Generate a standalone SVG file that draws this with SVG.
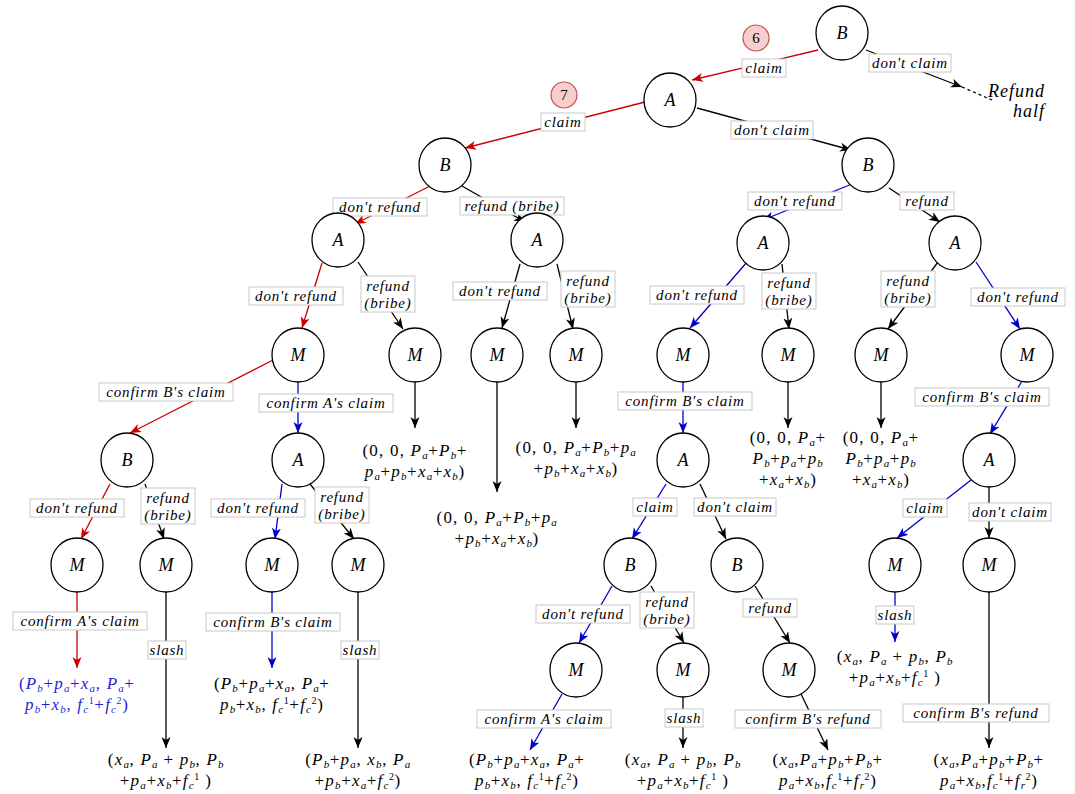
<svg xmlns="http://www.w3.org/2000/svg" width="1075" height="794" viewBox="0 0 1075 794">
<style>
.nd{fill:#fff;stroke:#000;stroke-width:1.3}
.nl{font-family:"Liberation Serif","Times New Roman",serif;font-style:italic;font-size:18px;text-anchor:middle}
.e{fill:none;stroke:#000;stroke-width:1.3}
.er{fill:none;stroke:#cc0000;stroke-width:1.3}
.eb{fill:none;stroke:#0000cc;stroke-width:1.3}
.lb{fill:#fff;stroke:#c8c8c8;stroke-width:1}
.lt{font-family:"Liberation Serif","Times New Roman",serif;font-style:italic;font-size:15px;text-anchor:middle;letter-spacing:0.8px}
.lf{font-family:"Liberation Serif","Times New Roman",serif;font-size:17px;text-anchor:middle;letter-spacing:1.2px}
.bl{fill:#1f1fd6}
.i{font-style:italic}
.s{font-style:italic;font-size:11px;baseline-shift:-3px;letter-spacing:0.6px}
.u{font-size:10px;baseline-shift:6px;letter-spacing:0.6px}
.bd{fill:#f8cecc;stroke:#b85450;stroke-width:1.2}
.bt{font-family:"Liberation Serif","Times New Roman",serif;font-size:15px;text-anchor:middle}
</style>
<defs>
<marker id="ak" markerUnits="userSpaceOnUse" markerWidth="12" markerHeight="10" refX="11" refY="4.5" orient="auto"><path d="M0,0 L11,4.5 L0,9 L3,4.5 z" fill="#000"/></marker>
<marker id="ar" markerUnits="userSpaceOnUse" markerWidth="12" markerHeight="10" refX="11" refY="4.5" orient="auto"><path d="M0,0 L11,4.5 L0,9 L3,4.5 z" fill="#cc0000"/></marker>
<marker id="ab" markerUnits="userSpaceOnUse" markerWidth="12" markerHeight="10" refX="11" refY="4.5" orient="auto"><path d="M0,0 L11,4.5 L0,9 L3,4.5 z" fill="#0000cc"/></marker>
</defs>
<rect width="1075" height="794" fill="#fff"/>
<g id="connectors">
<line class="er" x1="818" y1="50" x2="692" y2="80" marker-end="url(#ar)"/>
<line class="e" x1="866" y1="50" x2="962" y2="87" marker-end="url(#ak)"/>
<line class="e" x1="962" y1="87" x2="992" y2="100" stroke-dasharray="3,3"/>
<line class="er" x1="645" y1="102" x2="465" y2="148" marker-end="url(#ar)"/>
<line class="e" x1="697" y1="108" x2="851" y2="150" marker-end="url(#ak)"/>
<line class="er" x1="432" y1="185" x2="355" y2="224" marker-end="url(#ar)"/>
<line class="e" x1="462" y1="186" x2="525" y2="222" marker-end="url(#ak)"/>
<line class="eb" x1="852" y1="184" x2="763" y2="220" marker-end="url(#ab)"/>
<line class="e" x1="889" y1="188" x2="940" y2="222" marker-end="url(#ak)"/>
<line class="er" x1="322" y1="263" x2="302" y2="328" marker-end="url(#ar)"/>
<line class="e" x1="358" y1="262" x2="403" y2="329" marker-end="url(#ak)"/>
<line class="e" x1="520" y1="264" x2="502" y2="328" marker-end="url(#ak)"/>
<line class="e" x1="557" y1="264" x2="573" y2="329" marker-end="url(#ak)"/>
<line class="eb" x1="747" y1="262" x2="690" y2="328" marker-end="url(#ab)"/>
<line class="e" x1="782" y1="264" x2="789" y2="329" marker-end="url(#ak)"/>
<line class="e" x1="938" y1="262" x2="888" y2="329" marker-end="url(#ak)"/>
<line class="eb" x1="976" y1="262" x2="1020" y2="329" marker-end="url(#ab)"/>
<line class="er" x1="273" y1="360" x2="130" y2="433" marker-end="url(#ar)"/>
<line class="eb" x1="298" y1="381" x2="298" y2="433" marker-end="url(#ab)"/>
<line class="eb" x1="683" y1="381" x2="683" y2="433" marker-end="url(#ab)"/>
<line class="eb" x1="1022" y1="381" x2="990" y2="434" marker-end="url(#ab)"/>
<line class="er" x1="110" y1="484" x2="81" y2="539" marker-end="url(#ar)"/>
<line class="e" x1="145" y1="484" x2="164" y2="539" marker-end="url(#ak)"/>
<line class="eb" x1="282" y1="484" x2="275" y2="539" marker-end="url(#ab)"/>
<line class="e" x1="310" y1="484" x2="354" y2="539" marker-end="url(#ak)"/>
<line class="eb" x1="666" y1="484" x2="632" y2="539" marker-end="url(#ab)"/>
<line class="e" x1="700" y1="484" x2="726" y2="539" marker-end="url(#ak)"/>
<line class="eb" x1="971" y1="480" x2="897" y2="538" marker-end="url(#ab)"/>
<line class="e" x1="989" y1="487" x2="989" y2="538" marker-end="url(#ak)"/>
<line class="eb" x1="612" y1="586" x2="579" y2="643" marker-end="url(#ab)"/>
<line class="e" x1="651" y1="586" x2="684" y2="643" marker-end="url(#ak)"/>
<line class="e" x1="755" y1="586" x2="790" y2="643" marker-end="url(#ak)"/>
<line class="er" x1="77" y1="591" x2="77" y2="668" marker-end="url(#ar)"/>
<line class="e" x1="166" y1="591" x2="166" y2="748" marker-end="url(#ak)"/>
<line class="eb" x1="272" y1="591" x2="272" y2="668" marker-end="url(#ab)"/>
<line class="e" x1="358" y1="591" x2="358" y2="748" marker-end="url(#ak)"/>
<line class="eb" x1="562" y1="694" x2="530" y2="750" marker-end="url(#ab)"/>
<line class="e" x1="683" y1="696" x2="683" y2="748" marker-end="url(#ak)"/>
<line class="e" x1="801" y1="694" x2="828" y2="750" marker-end="url(#ak)"/>
<line class="eb" x1="895" y1="591" x2="895" y2="642" marker-end="url(#ab)"/>
<line class="e" x1="989" y1="591" x2="989" y2="748" marker-end="url(#ak)"/>
<line class="e" x1="415" y1="381" x2="415" y2="428" marker-end="url(#ak)"/>
<line class="e" x1="497" y1="381" x2="497" y2="492" marker-end="url(#ak)"/>
<line class="e" x1="576" y1="381" x2="576" y2="428" marker-end="url(#ak)"/>
<line class="e" x1="788" y1="381" x2="788" y2="428" marker-end="url(#ak)"/>
<line class="e" x1="881" y1="381" x2="881" y2="428" marker-end="url(#ak)"/>
<g id="edge-labels">
<rect class="lb" x="742" y="59" width="44" height="18"/><text class="lt" x="764" y="73">claim</text>
<rect class="lb" x="869" y="54" width="82" height="18"/><text class="lt" x="910" y="68">don't claim</text>
<rect class="lb" x="541" y="113" width="44" height="18"/><text class="lt" x="563" y="127">claim</text>
<rect class="lb" x="731" y="121" width="82" height="18"/><text class="lt" x="772" y="135">don't claim</text>
<rect class="lb" x="333" y="198" width="94" height="18"/><text class="lt" x="380" y="212">don't refund</text>
<rect class="lb" x="460" y="197" width="104" height="18"/><text class="lt" x="512" y="211">refund (bribe)</text>
<rect class="lb" x="748" y="192" width="94" height="18"/><text class="lt" x="795" y="206">don't refund</text>
<rect class="lb" x="900" y="192" width="54" height="18"/><text class="lt" x="927" y="206">refund</text>
<rect class="lb" x="249" y="287" width="94" height="18"/><text class="lt" x="296" y="301">don't refund</text>
<rect class="lb" x="361" y="276" width="54" height="36"/><text class="lt" x="388" y="291">refund<tspan x="388" y="308">(bribe)</tspan></text>
<rect class="lb" x="453" y="282" width="94" height="18"/><text class="lt" x="500" y="296">don't refund</text>
<rect class="lb" x="561" y="271" width="54" height="36"/><text class="lt" x="588" y="286">refund<tspan x="588" y="303">(bribe)</tspan></text>
<rect class="lb" x="650" y="286" width="94" height="18"/><text class="lt" x="697" y="300">don't refund</text>
<rect class="lb" x="762" y="273" width="54" height="36"/><text class="lt" x="789" y="288">refund<tspan x="789" y="305">(bribe)</tspan></text>
<rect class="lb" x="881" y="271" width="54" height="36"/><text class="lt" x="908" y="286">refund<tspan x="908" y="303">(bribe)</tspan></text>
<rect class="lb" x="971" y="288" width="94" height="18"/><text class="lt" x="1018" y="302">don't refund</text>
<rect class="lb" x="99" y="383" width="134" height="18"/><text class="lt" x="166" y="397">confirm B's claim</text>
<rect class="lb" x="259" y="394" width="134" height="18"/><text class="lt" x="326" y="408">confirm A's claim</text>
<rect class="lb" x="618" y="392" width="134" height="18"/><text class="lt" x="685" y="406">confirm B's claim</text>
<rect class="lb" x="915" y="388" width="134" height="18"/><text class="lt" x="982" y="402">confirm B's claim</text>
<rect class="lb" x="30" y="499" width="94" height="18"/><text class="lt" x="77" y="513">don't refund</text>
<rect class="lb" x="141" y="488" width="54" height="36"/><text class="lt" x="168" y="503">refund<tspan x="168" y="520">(bribe)</tspan></text>
<rect class="lb" x="211" y="499" width="94" height="18"/><text class="lt" x="258" y="513">don't refund</text>
<rect class="lb" x="315" y="487" width="54" height="36"/><text class="lt" x="342" y="502">refund<tspan x="342" y="519">(bribe)</tspan></text>
<rect class="lb" x="633" y="498" width="44" height="18"/><text class="lt" x="655" y="512">claim</text>
<rect class="lb" x="694" y="498" width="82" height="18"/><text class="lt" x="735" y="512">don't claim</text>
<rect class="lb" x="903" y="499" width="44" height="18"/><text class="lt" x="925" y="513">claim</text>
<rect class="lb" x="969" y="503" width="82" height="18"/><text class="lt" x="1010" y="517">don't claim</text>
<rect class="lb" x="536" y="605" width="94" height="18"/><text class="lt" x="583" y="619">don't refund</text>
<rect class="lb" x="640" y="592" width="54" height="36"/><text class="lt" x="667" y="607">refund<tspan x="667" y="624">(bribe)</tspan></text>
<rect class="lb" x="743" y="599" width="54" height="18"/><text class="lt" x="770" y="613">refund</text>
<rect class="lb" x="13" y="612" width="134" height="18"/><text class="lt" x="80" y="626">confirm A's claim</text>
<rect class="lb" x="148" y="641" width="38" height="18"/><text class="lt" x="167" y="655">slash</text>
<rect class="lb" x="206" y="613" width="134" height="18"/><text class="lt" x="273" y="627">confirm B's claim</text>
<rect class="lb" x="341" y="641" width="38" height="18"/><text class="lt" x="360" y="655">slash</text>
<rect class="lb" x="477" y="710" width="134" height="18"/><text class="lt" x="544" y="724">confirm A's claim</text>
<rect class="lb" x="665" y="709" width="38" height="18"/><text class="lt" x="684" y="723">slash</text>
<rect class="lb" x="735" y="710" width="146" height="18"/><text class="lt" x="808" y="724">confirm B's refund</text>
<rect class="lb" x="876" y="606" width="38" height="18"/><text class="lt" x="895" y="620">slash</text>
<rect class="lb" x="903" y="704" width="146" height="18"/><text class="lt" x="976" y="718">confirm B's refund</text>
</g>
</g>
<g id="badges">
<g id="badge6"><circle class="bd" cx="756" cy="38" r="13"/><text class="bt" x="756" y="43">6</text></g>
<g id="badge7"><circle class="bd" cx="564" cy="95" r="13"/><text class="bt" x="564" y="100">7</text></g>
</g>
<g id="refund-half"><text class="nl" x="1045" y="97" style="text-anchor:end;letter-spacing:1px">Refund<tspan x="1045" y="117">half</tspan></text></g>
<g id="nodes">
<g id="n-B0"><ellipse class="nd" cx="842" cy="33" rx="26" ry="27"/><text class="nl" x="842" y="39">B</text></g>
<g id="n-A1"><ellipse class="nd" cx="670" cy="100" rx="26" ry="27"/><text class="nl" x="670" y="106">A</text></g>
<g id="n-B2L"><ellipse class="nd" cx="445" cy="165" rx="26" ry="27"/><text class="nl" x="445" y="171">B</text></g>
<g id="n-B2R"><ellipse class="nd" cx="868" cy="165" rx="26" ry="27"/><text class="nl" x="868" y="171">B</text></g>
<g id="n-A3a"><ellipse class="nd" cx="338" cy="240" rx="26" ry="27"/><text class="nl" x="338" y="246">A</text></g>
<g id="n-A3b"><ellipse class="nd" cx="537" cy="240" rx="26" ry="27"/><text class="nl" x="537" y="246">A</text></g>
<g id="n-A3c"><ellipse class="nd" cx="763" cy="243" rx="26" ry="27"/><text class="nl" x="763" y="249">A</text></g>
<g id="n-A3d"><ellipse class="nd" cx="955" cy="243" rx="26" ry="27"/><text class="nl" x="955" y="249">A</text></g>
<g id="n-M4a"><ellipse class="nd" cx="298" cy="355" rx="26" ry="27"/><text class="nl" x="298" y="361">M</text></g>
<g id="n-M4b"><ellipse class="nd" cx="415" cy="355" rx="26" ry="27"/><text class="nl" x="415" y="361">M</text></g>
<g id="n-M4c"><ellipse class="nd" cx="497" cy="355" rx="26" ry="27"/><text class="nl" x="497" y="361">M</text></g>
<g id="n-M4d"><ellipse class="nd" cx="576" cy="355" rx="26" ry="27"/><text class="nl" x="576" y="361">M</text></g>
<g id="n-M4e"><ellipse class="nd" cx="683" cy="355" rx="26" ry="27"/><text class="nl" x="683" y="361">M</text></g>
<g id="n-M4f"><ellipse class="nd" cx="788" cy="355" rx="26" ry="27"/><text class="nl" x="788" y="361">M</text></g>
<g id="n-M4g"><ellipse class="nd" cx="881" cy="355" rx="26" ry="27"/><text class="nl" x="881" y="361">M</text></g>
<g id="n-M4h"><ellipse class="nd" cx="1027" cy="355" rx="26" ry="27"/><text class="nl" x="1027" y="361">M</text></g>
<g id="n-B5a"><ellipse class="nd" cx="127" cy="460" rx="26" ry="27"/><text class="nl" x="127" y="466">B</text></g>
<g id="n-A5b"><ellipse class="nd" cx="298" cy="460" rx="26" ry="27"/><text class="nl" x="298" y="466">A</text></g>
<g id="n-A5c"><ellipse class="nd" cx="683" cy="460" rx="26" ry="27"/><text class="nl" x="683" y="466">A</text></g>
<g id="n-A5d"><ellipse class="nd" cx="989" cy="460" rx="26" ry="27"/><text class="nl" x="989" y="466">A</text></g>
<g id="n-M6a"><ellipse class="nd" cx="77" cy="565" rx="26" ry="27"/><text class="nl" x="77" y="571">M</text></g>
<g id="n-M6b"><ellipse class="nd" cx="166" cy="565" rx="26" ry="27"/><text class="nl" x="166" y="571">M</text></g>
<g id="n-M6c"><ellipse class="nd" cx="272" cy="565" rx="26" ry="27"/><text class="nl" x="272" y="571">M</text></g>
<g id="n-M6d"><ellipse class="nd" cx="358" cy="565" rx="26" ry="27"/><text class="nl" x="358" y="571">M</text></g>
<g id="n-B6e"><ellipse class="nd" cx="630" cy="565" rx="26" ry="27"/><text class="nl" x="630" y="571">B</text></g>
<g id="n-B6f"><ellipse class="nd" cx="737" cy="565" rx="26" ry="27"/><text class="nl" x="737" y="571">B</text></g>
<g id="n-M6g"><ellipse class="nd" cx="895" cy="565" rx="26" ry="27"/><text class="nl" x="895" y="571">M</text></g>
<g id="n-M6h"><ellipse class="nd" cx="989" cy="565" rx="26" ry="27"/><text class="nl" x="989" y="571">M</text></g>
<g id="n-M7a"><ellipse class="nd" cx="576" cy="670" rx="26" ry="27"/><text class="nl" x="576" y="676">M</text></g>
<g id="n-M7b"><ellipse class="nd" cx="683" cy="670" rx="26" ry="27"/><text class="nl" x="683" y="676">M</text></g>
<g id="n-M7c"><ellipse class="nd" cx="789" cy="670" rx="26" ry="27"/><text class="nl" x="789" y="676">M</text></g>
</g>
<g id="leaves">
<text class="lf" x="415" y="456">(0, 0, <tspan class="i">P</tspan><tspan class="s">a</tspan>+<tspan class="i">P</tspan><tspan class="s">b</tspan>+<tspan x="415" y="477"><tspan class="i">p</tspan><tspan class="s">a</tspan>+<tspan class="i">p</tspan><tspan class="s">b</tspan>+<tspan class="i">x</tspan><tspan class="s">a</tspan>+<tspan class="i">x</tspan><tspan class="s">b</tspan>)</tspan></text>
<text class="lf" x="497" y="523">(0, 0, <tspan class="i">P</tspan><tspan class="s">a</tspan>+<tspan class="i">P</tspan><tspan class="s">b</tspan>+<tspan class="i">p</tspan><tspan class="s">a</tspan><tspan x="497" y="544">+<tspan class="i">p</tspan><tspan class="s">b</tspan>+<tspan class="i">x</tspan><tspan class="s">a</tspan>+<tspan class="i">x</tspan><tspan class="s">b</tspan>)</tspan></text>
<text class="lf" x="576" y="453">(0, 0, <tspan class="i">P</tspan><tspan class="s">a</tspan>+<tspan class="i">P</tspan><tspan class="s">b</tspan>+<tspan class="i">p</tspan><tspan class="s">a</tspan><tspan x="576" y="474">+<tspan class="i">p</tspan><tspan class="s">b</tspan>+<tspan class="i">x</tspan><tspan class="s">a</tspan>+<tspan class="i">x</tspan><tspan class="s">b</tspan>)</tspan></text>
<text class="lf" x="788" y="443">(0, 0, <tspan class="i">P</tspan><tspan class="s">a</tspan>+<tspan x="788" y="464"><tspan class="i">P</tspan><tspan class="s">b</tspan>+<tspan class="i">p</tspan><tspan class="s">a</tspan>+<tspan class="i">p</tspan><tspan class="s">b</tspan></tspan><tspan x="788" y="485">+<tspan class="i">x</tspan><tspan class="s">a</tspan>+<tspan class="i">x</tspan><tspan class="s">b</tspan>)</tspan></text>
<text class="lf" x="881" y="443">(0, 0, <tspan class="i">P</tspan><tspan class="s">a</tspan>+<tspan x="881" y="464"><tspan class="i">P</tspan><tspan class="s">b</tspan>+<tspan class="i">p</tspan><tspan class="s">a</tspan>+<tspan class="i">p</tspan><tspan class="s">b</tspan></tspan><tspan x="881" y="485">+<tspan class="i">x</tspan><tspan class="s">a</tspan>+<tspan class="i">x</tspan><tspan class="s">b</tspan>)</tspan></text>
<text class="lf bl" x="77" y="689">(<tspan class="i">P</tspan><tspan class="s">b</tspan>+<tspan class="i">p</tspan><tspan class="s">a</tspan>+<tspan class="i">x</tspan><tspan class="s">a</tspan>, <tspan class="i">P</tspan><tspan class="s">a</tspan>+<tspan x="77" y="710"><tspan class="i">p</tspan><tspan class="s">b</tspan>+<tspan class="i">x</tspan><tspan class="s">b</tspan>, <tspan class="i">f</tspan><tspan class="s">c</tspan><tspan class="u">1</tspan>+<tspan class="i">f</tspan><tspan class="s">c</tspan><tspan class="u">2</tspan>)</tspan></text>
<text class="lf" x="166" y="765">(<tspan class="i">x</tspan><tspan class="s">a</tspan>, <tspan class="i">P</tspan><tspan class="s">a</tspan> + <tspan class="i">p</tspan><tspan class="s">b</tspan>, <tspan class="i">P</tspan><tspan class="s">b</tspan><tspan x="166" y="786">+<tspan class="i">p</tspan><tspan class="s">a</tspan>+<tspan class="i">x</tspan><tspan class="s">b</tspan>+<tspan class="i">f</tspan><tspan class="s">c</tspan><tspan class="u">1</tspan> )</tspan></text>
<text class="lf" x="272" y="689">(<tspan class="i">P</tspan><tspan class="s">b</tspan>+<tspan class="i">p</tspan><tspan class="s">a</tspan>+<tspan class="i">x</tspan><tspan class="s">a</tspan>, <tspan class="i">P</tspan><tspan class="s">a</tspan>+<tspan x="272" y="710"><tspan class="i">p</tspan><tspan class="s">b</tspan>+<tspan class="i">x</tspan><tspan class="s">b</tspan>, <tspan class="i">f</tspan><tspan class="s">c</tspan><tspan class="u">1</tspan>+<tspan class="i">f</tspan><tspan class="s">c</tspan><tspan class="u">2</tspan>)</tspan></text>
<text class="lf" x="358" y="765">(<tspan class="i">P</tspan><tspan class="s">b</tspan>+<tspan class="i">p</tspan><tspan class="s">a</tspan>, <tspan class="i">x</tspan><tspan class="s">b</tspan>, <tspan class="i">P</tspan><tspan class="s">a</tspan><tspan x="358" y="786">+<tspan class="i">p</tspan><tspan class="s">b</tspan>+<tspan class="i">x</tspan><tspan class="s">a</tspan>+<tspan class="i">f</tspan><tspan class="s">c</tspan><tspan class="u">2</tspan>)</tspan></text>
<text class="lf" x="527" y="765">(<tspan class="i">P</tspan><tspan class="s">b</tspan>+<tspan class="i">p</tspan><tspan class="s">a</tspan>+<tspan class="i">x</tspan><tspan class="s">a</tspan>, <tspan class="i">P</tspan><tspan class="s">a</tspan>+<tspan x="527" y="786"><tspan class="i">p</tspan><tspan class="s">b</tspan>+<tspan class="i">x</tspan><tspan class="s">b</tspan>, <tspan class="i">f</tspan><tspan class="s">c</tspan><tspan class="u">1</tspan>+<tspan class="i">f</tspan><tspan class="s">c</tspan><tspan class="u">2</tspan>)</tspan></text>
<text class="lf" x="683" y="765">(<tspan class="i">x</tspan><tspan class="s">a</tspan>, <tspan class="i">P</tspan><tspan class="s">a</tspan> + <tspan class="i">p</tspan><tspan class="s">b</tspan>, <tspan class="i">P</tspan><tspan class="s">b</tspan><tspan x="683" y="786">+<tspan class="i">p</tspan><tspan class="s">a</tspan>+<tspan class="i">x</tspan><tspan class="s">b</tspan>+<tspan class="i">f</tspan><tspan class="s">c</tspan><tspan class="u">1</tspan> )</tspan></text>
<text class="lf" x="828" y="765">(<tspan class="i">x</tspan><tspan class="s">a</tspan>,<tspan class="i">P</tspan><tspan class="s">a</tspan>+<tspan class="i">p</tspan><tspan class="s">b</tspan>+<tspan class="i">P</tspan><tspan class="s">b</tspan>+<tspan x="828" y="786"><tspan class="i">p</tspan><tspan class="s">a</tspan>+<tspan class="i">x</tspan><tspan class="s">b</tspan>,<tspan class="i">f</tspan><tspan class="s">c</tspan><tspan class="u">1</tspan>+<tspan class="i">f</tspan><tspan class="s">r</tspan><tspan class="u">2</tspan>)</tspan></text>
<text class="lf" x="895" y="662">(<tspan class="i">x</tspan><tspan class="s">a</tspan>, <tspan class="i">P</tspan><tspan class="s">a</tspan> + <tspan class="i">p</tspan><tspan class="s">b</tspan>, <tspan class="i">P</tspan><tspan class="s">b</tspan><tspan x="895" y="683">+<tspan class="i">p</tspan><tspan class="s">a</tspan>+<tspan class="i">x</tspan><tspan class="s">b</tspan>+<tspan class="i">f</tspan><tspan class="s">c</tspan><tspan class="u">1</tspan> )</tspan></text>
<text class="lf" x="989" y="765">(<tspan class="i">x</tspan><tspan class="s">a</tspan>,<tspan class="i">P</tspan><tspan class="s">a</tspan>+<tspan class="i">p</tspan><tspan class="s">b</tspan>+<tspan class="i">P</tspan><tspan class="s">b</tspan>+<tspan x="989" y="786"><tspan class="i">p</tspan><tspan class="s">a</tspan>+<tspan class="i">x</tspan><tspan class="s">b</tspan>,<tspan class="i">f</tspan><tspan class="s">c</tspan><tspan class="u">1</tspan>+<tspan class="i">f</tspan><tspan class="s">r</tspan><tspan class="u">2</tspan>)</tspan></text>
</g>
</svg>
